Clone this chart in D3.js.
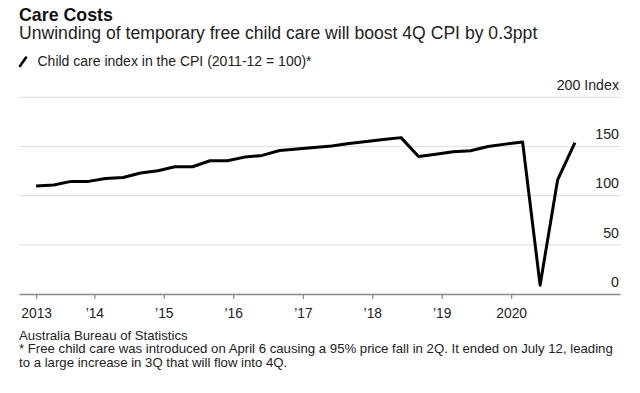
<!DOCTYPE html>
<html>
<head>
<meta charset="utf-8">
<script src="https://cdn.jsdelivr.net/npm/d3@7"></script>
<style>
  body { margin: 0; background: #fff; }
  svg { display: block; font-family: 'Liberation Sans', Arial, Helvetica, sans-serif; }
</style>
</head>
<body>
<div id="chart-area"></div>
<script>
// quarterly observations, March 2013 .. December 2020
const quarters = [
  '2013-03', '2013-06', '2013-09', '2013-12',
  '2014-03', '2014-06', '2014-09', '2014-12',
  '2015-03', '2015-06', '2015-09', '2015-12',
  '2016-03', '2016-06', '2016-09', '2016-12',
  '2017-03', '2017-06', '2017-09', '2017-12',
  '2018-03', '2018-06', '2018-09', '2018-12',
  '2019-03', '2019-06', '2019-09', '2019-12',
  '2020-03', '2020-06', '2020-09', '2020-12',
];
const childCareIndex = [
  109.8, 110.8, 114.5, 114.5,
  117.5, 118.5, 123.0, 125.3,
  129.4, 129.4, 135.5, 135.5,
  139.2, 140.9, 145.9, 147.4,
  149.0, 150.4, 153.0, 155.0,
  157.0, 159.0, 139.9, 142.2,
  144.6, 145.6, 150.0, 152.4,
  154.5, 9.0, 116.0, 154.0,
];
const xTickDates = ['2013-03', '2014-01', '2015-01', '2016-01', '2017-01', '2018-01', '2019-01', '2020-01'];
const xTickLabels = ['2013', '’14', '’15', '’16', '’17', '’18', '’19', '2020'];
const yTicks = [0, 50, 100, 150, 200];

let width = 640;
let height = 393;
let parseMonth = d3.timeParse('%Y-%m');

let data = quarters.map((q, i) => ({ date: parseMonth(q), value: childCareIndex[i] }));

let xScale = d3
  .scaleTime()
  .domain([new Date(2012, 11, 1), new Date(2021, 6, 26)])
  .range([19, 620]);

let yScale = d3.scaleLinear().domain([0, 200]).range([294, 97.3]);

let chart = d3
  .select('#chart-area')
  .append('svg')
  .attr('width', width)
  .attr('height', height);

//header
chart
  .append('text')
  .attr('x', 19)
  .attr('y', 21)
  .attr('font-size', '17.8px')
  .attr('font-weight', 'bold')
  .attr('fill', '#111')
  .text('Care Costs');
chart
  .append('text')
  .attr('x', 19)
  .attr('y', 39.3)
  .attr('font-size', '17.6px')
  .attr('fill', '#222')
  .text('Unwinding of temporary free child care will boost 4Q CPI by 0.3ppt');

//legend
chart
  .append('line')
  .attr('x1', 20)
  .attr('y1', 66)
  .attr('x2', 26)
  .attr('y2', 57.5)
  .attr('stroke', '#000')
  .attr('stroke-width', 2.6)
  .attr('stroke-linecap', 'round');
chart
  .append('text')
  .attr('x', 37.5)
  .attr('y', 65.7)
  .attr('font-size', '14px')
  .attr('fill', '#222')
  .text('Child care index in the CPI (2011-12 = 100)*');

//gridlines
chart
  .append('g')
  .attr('id', 'grid')
  .selectAll('line')
  .data(yTicks.filter((d) => d > 0))
  .enter()
  .append('line')
  .attr('x1', 19)
  .attr('x2', 621)
  .attr('y1', (d) => yScale(d))
  .attr('y2', (d) => yScale(d))
  .attr('stroke', '#e1e1e1')
  .attr('stroke-width', 1.2);

//y axis labels sit above the gridlines at the right edge
let yAxis = d3
  .axisLeft(yScale)
  .tickValues(yTicks)
  .tickSize(0)
  .tickFormat((d) => (d == 200 ? '200 Index' : `${d}`));
let yAxisG = chart.append('g').attr('id', 'y-axis').attr('transform', 'translate(619, 0)').call(yAxis);
yAxisG.select('.domain').remove();
yAxisG
  .selectAll('text')
  .attr('x', 0)
  .attr('dy', '-0.55em')
  .attr('font-size', '14.2px')
  .attr('font-family', 'inherit')
  .attr('fill', '#222');

//x axis
let xAxis = d3
  .axisBottom(xScale)
  .tickValues(xTickDates.map(parseMonth))
  .tickSize(5)
  .tickSizeOuter(0)
  .tickFormat((d, i) => xTickLabels[i]);
let xAxisG = chart.append('g').attr('id', 'x-axis').attr('transform', 'translate(0, 294)').call(xAxis);
xAxisG.select('.domain').attr('stroke', '#8a8a8a').attr('stroke-width', 1.6);
xAxisG.selectAll('.tick line').attr('stroke', '#8a8a8a').attr('stroke-width', 1.2);
xAxisG
  .selectAll('text')
  .attr('y', 14.5)
  .attr('font-size', '13.8px')
  .attr('font-family', 'inherit')
  .attr('fill', '#222');

//line
let line = d3
  .line()
  .x((d) => xScale(d.date))
  .y((d) => yScale(d.value));
chart
  .append('path')
  .datum(data)
  .attr('fill', 'none')
  .attr('stroke', '#000')
  .attr('stroke-width', 3)
  .attr('stroke-linejoin', 'round')
  .attr('d', line);

//footer
let footer = chart.append('g').attr('font-size', '13.2px').attr('fill', '#222');
footer.append('text').attr('x', 19).attr('y', 339.7).text('Australia Bureau of Statistics');
footer
  .append('text')
  .attr('x', 19)
  .attr('y', 353.4)
  .text('* Free child care was introduced on April 6 causing a 95% price fall in 2Q. It ended on July 12, leading');
footer.append('text').attr('x', 19).attr('y', 367.1).text('to a large increase in 3Q that will flow into 4Q.');
</script>
</body>
</html>
